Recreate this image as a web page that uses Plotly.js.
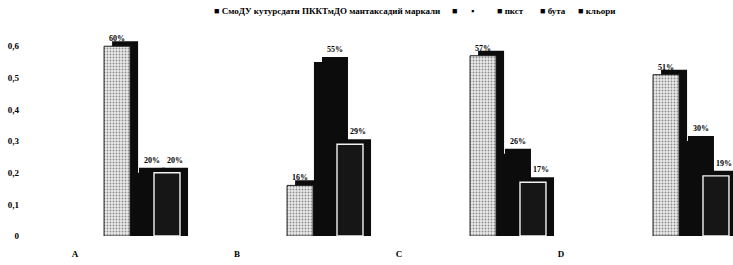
<!DOCTYPE html>
<html>
<head>
<meta charset="utf-8">
<script src="https://cdn.plot.ly/plotly-3.0.1.min.js"></script>
<style>html,body{margin:0;padding:0;background:#fff;}#chart{width:733px;height:265px;}</style>
</head>
<body>
<div id="chart"></div>
<script>
// ---- data ----
const categories = ['A', 'B', 'C', 'D'];
const seriesNames = ['пкст', 'бута', 'кльори'];
const values1 = [0.60, 0.16, 0.57, 0.51];
const values2 = [0.20, 0.55, 0.26, 0.30];
const values3 = [0.20, 0.29, 0.17, 0.19];
const legendLabels = ['СмоДУ кутурсдати ПККТмДО мантаксадий маркали', '', '', 'пкст', 'бута', 'кльори'];
const yTickValues = [0, 0.1, 0.2, 0.3, 0.4, 0.5, 0.6];

// ---- styling constants ----
const BAR_W = 0.142;
const OFFSETS = [-0.224, -0.077, 0.049];
const DEPTH_X = 0.044;
const DEPTH_Y = 0.016;
const FONT = 'Liberation Serif';
const PLOT_L = 40, PLOT_W = 693, PLOT_T = 32, PLOT_H = 204;
const LEGEND_PX = [212, 450, 469, 495, 538, 576];
const LEGEND_SYMBOLS = ['■', '■', '▪', '■', '■', '■'];
const LABEL_ON_DEPTH = [false, true, true];

const frontMarkers = [
  {color: '#e6e6e6', pattern: {shape: '.', fgcolor: '#8c8c8c', bgcolor: '#ebebeb', size: 3, solidity: 0.3}, line: {color: '#222', width: 1}},
  {color: '#0c0c0c', line: {color: '#0c0c0c', width: 0}},
  {color: '#161616', line: {color: '#f2f2f2', width: 1.4}}
];

const series = [values1, values2, values3];
const traces = [];
series.forEach((vals, k) => {
  const labels = vals.map(v => Math.round(v * 100) + '%');
  const txt = {
    textposition: 'outside', constraintext: 'none', cliponaxis: false,
    textfont: {family: FONT, size: 8, weight: 'bold', color: '#000'}
  };
  traces.push(Object.assign({
    type: 'bar', x: categories, y: vals.map(v => v + DEPTH_Y),
    offset: OFFSETS[k] + DEPTH_X, width: BAR_W,
    marker: {color: '#0c0c0c', line: {width: 0}},
    showlegend: false, hoverinfo: 'skip', name: seriesNames[k] + ' depth'
  }, LABEL_ON_DEPTH[k] ? Object.assign({text: labels}, txt) : {}));
  traces.push(Object.assign({
    type: 'bar', x: categories, y: vals, name: seriesNames[k],
    offset: OFFSETS[k], width: BAR_W,
    marker: frontMarkers[k],
    showlegend: false, hoverinfo: 'skip'
  }, LABEL_ON_DEPTH[k] ? {} : Object.assign({text: labels}, txt)));
});

// category labels axis
traces.push({
  type: 'scatter', x: categories, y: categories.map(() => 0), xaxis: 'x2', yaxis: 'y',
  mode: 'markers', marker: {opacity: 0, size: 1}, showlegend: false, hoverinfo: 'skip'
});

const legendAnnotations = legendLabels.map((lab, i) => ({
  xref: 'paper', yref: 'paper',
  x: (LEGEND_PX[i] - PLOT_L) / PLOT_W, xanchor: 'left',
  y: 1 + (PLOT_T - 11) / PLOT_H, yanchor: 'middle',
  text: LEGEND_SYMBOLS[i] + (lab ? ' ' + lab : ''),
  showarrow: false,
  font: {family: FONT, size: 9, weight: 'bold', color: '#000'}
}));

const layout = {
  width: 733, height: 265,
  margin: {l: PLOT_L, r: 0, t: PLOT_T, b: 265 - PLOT_T - PLOT_H},
  separators: ', ',
  barmode: 'overlay',
  paper_bgcolor: '#fff', plot_bgcolor: '#fff',
  font: {family: FONT, color: '#000'},
  showlegend: false,
  xaxis: {type: 'category', range: [-0.574, 3.213], showticklabels: false, showgrid: false, zeroline: false, showline: false, ticks: ''},
  xaxis2: {type: 'category', overlaying: 'x', side: 'bottom', range: [-0.216, 4.062], showgrid: false, zeroline: false, showline: false, ticks: '',
           tickfont: {family: FONT, size: 9, weight: 'bold', color: '#000'}, ticklabelstandoff: 11},
  yaxis: {range: [0, 0.645], tickvals: yTickValues, showgrid: false, zeroline: false, showline: false, ticks: '',
          tickfont: {family: FONT, size: 9, weight: 'bold', color: '#000'}, ticklabelstandoff: 20},
  annotations: legendAnnotations
};

Plotly.newPlot('chart', traces, layout, {displayModeBar: false, staticPlot: true});
</script>
</body>
</html>
